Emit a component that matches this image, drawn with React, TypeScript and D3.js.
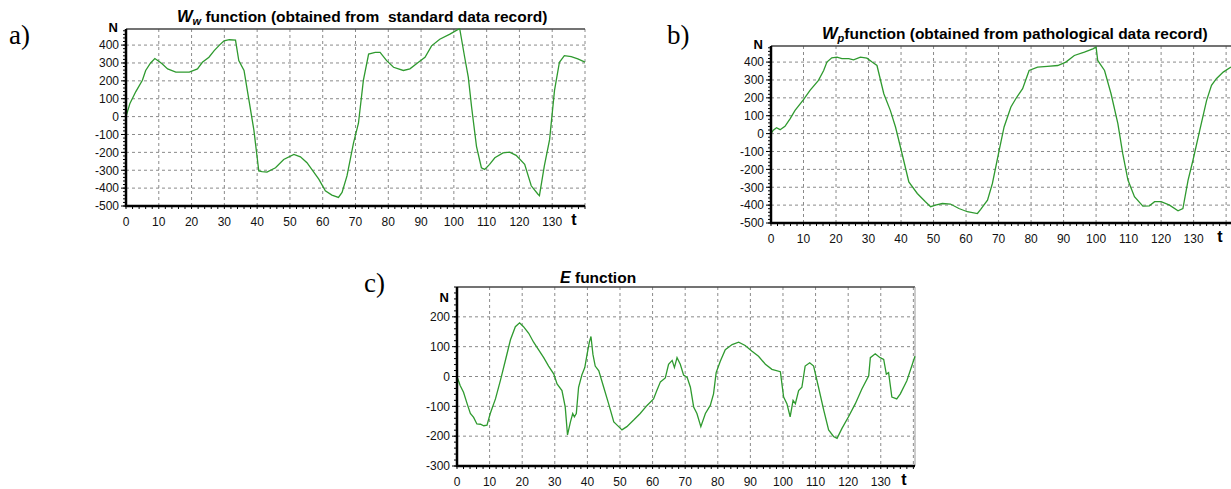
import React from 'react';
import * as d3 from 'd3';

// [t, N] points
const wwPoints: [number, number][] = [
  [0, 0], [1.2, 74], [3, 140], [5, 203], [6, 258], [7.5, 300], [8.8, 325], [10, 310], [11, 295],
  [12.7, 267], [15.2, 249], [19.3, 249], [21.8, 267], [23.3, 304], [25.3, 332], [26.9, 369],
  [28.5, 400], [29.9, 424], [31.5, 430], [33.4, 428], [34.4, 313], [36, 258], [37.5, 92],
  [39, -74], [40.5, -304], [41.5, -308], [43, -310], [45.6, -286], [48.1, -240], [51.2, -212],
  [53.2, -225], [55.2, -258], [58.8, -350], [60.8, -415], [62.8, -439], [64.8, -452],
  [65.9, -424], [67.4, -332], [69.4, -147], [70.9, -37], [72.4, 203], [74, 350], [76, 359],
  [77.5, 359], [79.5, 313], [81.6, 276], [84.6, 258], [86.6, 267], [89.2, 304], [91.2, 332],
  [93.2, 396], [95.7, 433], [98.8, 461], [101.3, 488], [101.8, 490], [103.3, 332], [104.4, 221],
  [105.4, 55], [106.9, -166], [108.4, -286], [109.4, -295], [110.9, -267], [112.5, -230],
  [115, -203], [117, -199], [119, -217], [121.6, -267], [123.6, -387], [125.6, -433],
  [126.1, -442], [127.6, -276], [129.2, -129], [130.7, 147], [132.2, 304], [133.7, 341],
  [135.8, 335], [137.8, 323], [140, 305],
];

const wpPoints: [number, number][] = [
  [0, 0], [0.7, 19], [1.7, 33], [2.8, 22], [4.3, 41], [5.9, 84], [7.4, 130], [10, 190],
  [12, 242], [14.6, 298], [16.2, 353], [17.2, 400], [18.7, 424], [20.3, 428], [21.8, 419],
  [23.9, 419], [25.4, 413], [27.5, 428], [29.5, 422], [31.1, 400], [32.6, 381], [34.7, 223],
  [36.7, 130], [38.3, 37], [39.3, -37], [40.8, -149], [42.4, -270], [45, -335], [47.5, -381],
  [49.1, -409], [50.6, -400], [52.7, -391], [55.2, -394], [57.8, -419], [60.4, -437],
  [63.5, -447], [64.5, -424], [66.6, -372], [68.1, -279], [70.2, -93], [71.7, 37], [73.8, 149],
  [75.3, 195], [77.4, 251], [79.4, 353], [82, 372], [85, 376], [88.2, 381], [90.7, 400],
  [93.3, 437], [96.4, 456], [99, 474], [100, 484], [100.5, 409], [102.6, 353], [104.6, 223],
  [106.7, 56], [108.2, -112], [109.8, -260], [111.8, -353], [114.4, -406], [116.4, -404],
  [118, -381], [120, -381], [122.6, -400], [125.2, -432], [126.7, -419], [128.3, -260],
  [129.8, -149], [131.9, 19], [134, 186], [135.5, 270], [137, 307], [139.1, 344], [141.5, 372],
];

const ePoints: [number, number][] = [
  [0, 0], [1, -31], [2, -53], [3.1, -91], [4.1, -124], [5.1, -137], [6.1, -159], [7.2, -160],
  [8.2, -165], [9.2, -163], [10.2, -124], [11.8, -75], [13.3, -14], [14.8, 52], [16.4, 123],
  [17.9, 167], [19.2, 180], [20.4, 167], [22, 145], [23.5, 115], [25, 90], [26.6, 63],
  [28.1, 35], [29.7, 8], [30.7, -25], [32.2, -47], [33.2, -102], [33.9, -196], [34.8, -152],
  [35.5, -124], [36, -135], [36.6, -124], [37.3, -36], [38.3, 5], [39.2, 30], [39.9, 74],
  [40.6, 115], [41.1, 134], [41.7, 74], [42.4, 35], [43.5, 19], [45, -36], [46.5, -91],
  [48.1, -152], [49.6, -168], [50.6, -179], [52.1, -168], [54.2, -146], [56.2, -124],
  [58.3, -97], [60.3, -75], [61.3, -47], [62.4, -18], [63.9, -5], [64.9, 41], [66, 54],
  [66.7, 30], [67.5, 63], [68.5, 41], [69.5, 5], [70.6, -3], [71.6, -36], [72.6, -102],
  [73.6, -124], [74.8, -168], [76.2, -124], [77.7, -97], [78.7, -58], [79.5, 13], [80.8, 52],
  [82.3, 90], [84.4, 107], [86.4, 115], [88.4, 104], [90.5, 85], [92.5, 68], [94.6, 41],
  [96.6, 24], [99.2, 16], [100.2, -69], [101.2, -91], [102.2, -135], [103.1, -80],
  [103.8, -91], [104.8, -47], [105.8, -36], [106.8, 35], [108.2, 46], [109.4, 35],
  [110.9, -36], [112.5, -113], [114, -179], [115.5, -201], [116.6, -207], [118.1, -174],
  [120.1, -135], [122.2, -91], [124.2, -42], [126.3, 2], [126.8, 63], [128.3, 76],
  [129.8, 63], [130.9, 57], [131.7, 8], [132.4, 13], [133.4, -69], [134.9, -75], [136, -58],
  [138, -14], [140.5, 68],
];

const tTicks = [0, 10, 20, 30, 40, 50, 60, 70, 80, 90, 100, 110, 120, 130];
const wTicks = [400, 300, 200, 100, 0, -100, -200, -300, -400, -500];
const eTicks = [200, 100, 0, -100, -200, -300];

const SANS = '"Liberation Sans", Arial, sans-serif';
const SERIF = '"Liberation Serif", "Times New Roman", serif';
const GREEN = '#2f9a2f';

type PanelProps = {
  points: [number, number][];
  left: number; right: number; top: number; bottom: number;
  tMax: number; yDomain: [number, number]; yTicks: number[];
  nBaseline: number;
  title: React.ReactNode; titleX: number; titleY: number;
  rightBorder?: boolean;
};

function Panel(p: PanelProps) {
  const x = d3.scaleLinear().domain([0, p.tMax]).range([p.left, p.right]);
  const y = d3.scaleLinear().domain(p.yDomain).range([p.bottom, p.top]);
  const line = d3.line<[number, number]>().x(d => x(d[0])).y(d => y(d[1]));
  const gridX = d3.range(10, p.tMax + 0.01, 10);
  const minorX = d3.range(0, p.tMax + 0.01, 2);
  const minorY = d3.range(p.yDomain[0], p.yDomain[1] + 0.01, 20);

  return (
    <g>
      <rect x={p.left} y={p.top} width={p.right - p.left} height={p.bottom - p.top} fill="#fff" />
      {gridX.map(t => (
        <line key={'gx' + t} x1={x(t)} x2={x(t)} y1={p.top} y2={p.bottom}
          stroke="#8a8a8a" strokeDasharray="3,3" />
      ))}
      {p.yTicks.filter(v => v !== p.yDomain[0]).map(v => (
        <line key={'gy' + v} x1={p.left} x2={p.right} y1={y(v)} y2={y(v)}
          stroke="#8a8a8a" strokeDasharray="3,3" />
      ))}
      <line x1={p.left} x2={p.right} y1={p.top} y2={p.top} stroke="#444" strokeWidth={1.5} />
      {p.rightBorder && (
        <line x1={p.right} x2={p.right} y1={p.top} y2={p.bottom} stroke="#999" />
      )}
      <path d={line(p.points) || ''} fill="none" stroke={GREEN} strokeWidth={1.3} />
      {/* axes */}
      {minorX.map(t => (
        <line key={'mx' + t} x1={x(t)} x2={x(t)} y1={p.bottom} y2={p.bottom + 3} stroke="#000" />
      ))}
      {minorY.map(v => (
        <line key={'my' + v} x1={p.left - 3} x2={p.left} y1={y(v)} y2={y(v)} stroke="#000" />
      ))}
      {p.yTicks.map(v => (
        <line key={'ty' + v} x1={p.left - 5} x2={p.left} y1={y(v)} y2={y(v)} stroke="#000" />
      ))}
      <line x1={p.left} x2={p.left} y1={p.top} y2={p.bottom + 1} stroke="#000" strokeWidth={2.5} />
      <line x1={p.left - 1} x2={p.right} y1={p.bottom} y2={p.bottom} stroke="#000" strokeWidth={2.5} />
      <g fontFamily={SANS} fontSize={12} fill="#111">
        {p.yTicks.map(v => (
          <text key={'ly' + v} x={p.left - 7} y={y(v)} dy="0.36em" textAnchor="end">{v}</text>
        ))}
        {tTicks.map(t => (
          <text key={'lx' + t} x={x(t)} y={p.bottom + 20} textAnchor="middle">{t}</text>
        ))}
      </g>
      <text x={p.left - 8} y={p.nBaseline} textAnchor="end" fontFamily={SANS}
        fontWeight="bold" fontSize={13}>N</text>
      <text x={p.right - 11} y={p.bottom + 19} textAnchor="middle" fontFamily={SANS}
        fontWeight="bold" fontSize={16}>t</text>
      <text x={p.titleX} y={p.titleY} fontFamily={SANS} fontWeight="bold" fontSize={15.5}
        style={{ whiteSpace: 'pre' }}>{p.title}</text>
    </g>
  );
}

export default function App() {
  return (
    <svg width={1231} height={489} style={{ position: 'absolute', left: 0, top: 0 }}>
      <rect width={1231} height={489} fill="#fff" />
      <text x={9} y={44} fontFamily={SERIF} fontSize={27}>a)</text>
      <text x={667} y={44} fontFamily={SERIF} fontSize={27}>b)</text>
      <text x={364} y={292} fontFamily={SERIF} fontSize={27}>c)</text>
      <Panel points={wwPoints} left={126} right={585} top={29} bottom={206}
        tMax={140} yDomain={[-500, 490]} yTicks={wTicks} nBaseline={32}
        titleX={177} titleY={22}
        title={<><tspan fontStyle="italic" fontSize={16.5}>W</tspan><tspan fontStyle="italic" fontSize={11} dy={3}>w</tspan><tspan dy={-3}> function (obtained from  standard data record)</tspan></>} />
      <Panel points={wpPoints} left={771} right={1231} top={46} bottom={223}
        tMax={141.5} yDomain={[-500, 490]} yTicks={wTicks} nBaseline={49}
        titleX={822} titleY={39}
        title={<><tspan fontStyle="italic" fontSize={16.5}>W</tspan><tspan fontStyle="italic" fontSize={11} dy={3}>p</tspan><tspan dy={-3}>function (obtained from pathological data record)</tspan></>} />
      <Panel points={ePoints} left={457} right={915} top={287} bottom={466}
        tMax={140.5} yDomain={[-300, 300]} yTicks={eTicks} nBaseline={302}
        titleX={560} titleY={283} rightBorder
        title={<><tspan fontStyle="italic" fontSize={16}>E</tspan><tspan> function</tspan></>} />
    </svg>
  );
}
